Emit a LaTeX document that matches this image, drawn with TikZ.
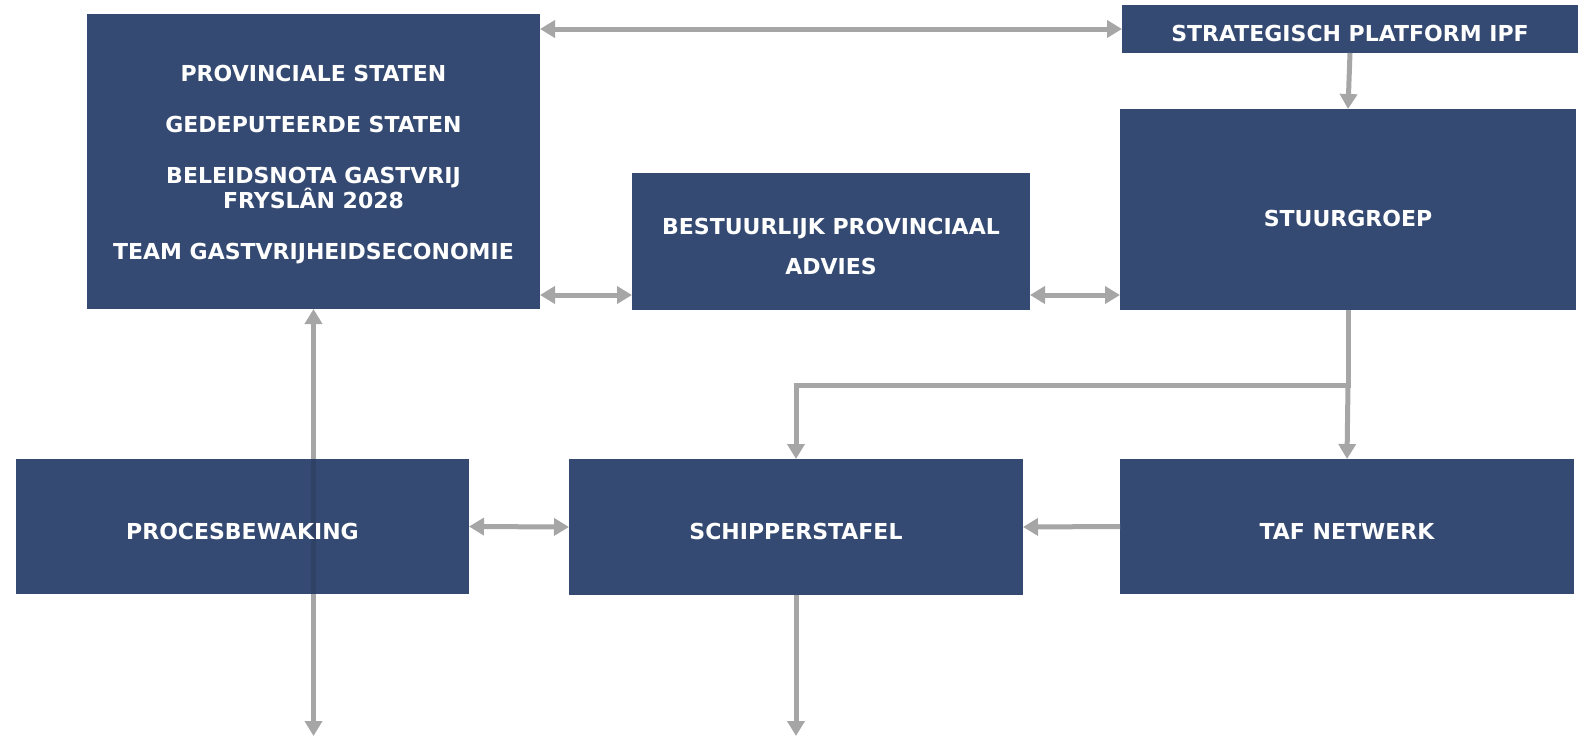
\documentclass[tikz,border=0pt]{standalone}
\usepackage{fontspec}
\setmainfont{DejaVu Sans}
\usetikzlibrary{arrows.meta,backgrounds}
\definecolor{boxblue}{HTML}{354A72}
\definecolor{arrowgray}{HTML}{A6A6A6}
\tikzset{box/.style={fill=boxblue, inner sep=0pt, outer sep=0pt},
	txt/.style={text=white, font=\bfseries\fontsize{22}{25.5}\selectfont, align=center, inner sep=0pt},
	conn/.style={draw=arrowgray, line width=5pt, -{Triangle[length=15pt,width=17pt]}},
	conn2/.style={conn, {Triangle[length=15pt,width=17pt]}-{Triangle[length=15pt,width=17pt]}}}

\begin{document}
\begin{tikzpicture}[x=1pt,y=-1pt]
	% field
	\useasboundingbox (0,0) rectangle (1583,736);
	\coordinate (bottom) at (0,736);
	\coordinate (midrow) at (0,295);
	\coordinate (branch) at (0,385);
	
	% boxes
	\node[box, minimum width=453pt, minimum height=295pt] (ps) at (313.5,161.5) {};
	\node[box, minimum width=456pt, minimum height=48pt] (sp) at (1350,29) {};
	\node[box, minimum width=456pt, minimum height=201pt] (stuur) at (1348,209.5) {};
	\node[box, minimum width=398pt, minimum height=137pt] (bpa) at (831,241.5) {};
	\node[box, minimum width=453pt, minimum height=135pt] (proc) at (242.5,526.5) {};
	\node[box, minimum width=454pt, minimum height=136pt] (schip) at (796,527) {};
	\node[box, minimum width=454pt, minimum height=135pt] (taf) at (1347,526.5) {};
	
	% line seen through procesbewaking
	\draw[line width=5pt, boxblue!88!black] (proc.north -| ps.south) -- (proc.south -| ps.south);
	
	% texts
	\node[txt] (pstxt) at ([yshift=-3pt]ps.center) {PROVINCIALE STATEN\\[25.5pt] GEDEPUTEERDE STATEN\\[25.5pt] BELEIDSNOTA GASTVRIJ\\ FRYSLÂN 2028\\[25.5pt] TEAM GASTVRIJHEIDSECONOMIE};
	\node[txt] (sptxt) at ([yshift=-4.5pt]sp.center) {STRATEGISCH PLATFORM IPF};
	\node[txt] (stuurtxt) at ([yshift=-9pt]stuur.center) {STUURGROEP};
	\node[txt] (bpatxt) at ([yshift=-5pt]bpa.center) {BESTUURLIJK PROVINCIAAL\\[14pt] ADVIES};
	\node[txt] (proctxt) at ([yshift=-4.5pt]proc.center) {PROCESBEWAKING};
	\node[txt] (schiptxt) at ([yshift=-4.5pt]schip.center) {SCHIPPERSTAFEL};
	\node[txt] (taftxt) at ([yshift=-4.5pt]taf.center) {TAF NETWERK};
	
	% arrows
	\draw[conn2] (ps.east |- sp.west) -- (sp.west);
	\draw[conn] (sp.south) -- (stuur.north);
	\draw[conn2] (ps.east |- midrow) -- (bpa.west |- midrow);
	\draw[conn2] (bpa.east |- midrow) -- (stuur.west |- midrow);
	\draw[conn] (stuur.south) -- (stuur.south |- branch) -| (schip.north);
	\draw[conn] (stuur.south |- branch) -- (taf.north);
	\draw[conn2] (proc.east) -- (schip.west);
	\draw[conn] (taf.west) -- (schip.east);
	\draw[conn] (schip.south) -- (schip.south |- bottom);
	\begin{scope}[on background layer]
		\draw[conn2] (ps.south |- bottom) -- (ps.south);
	\end{scope}
\end{tikzpicture}
\end{document}
